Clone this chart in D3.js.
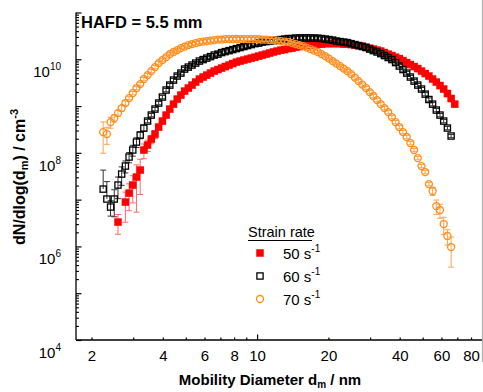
<!DOCTYPE html>
<html><head><meta charset="utf-8">
<script src="https://cdn.jsdelivr.net/npm/d3@7"></script>
<style>
body{margin:0;background:#fff}
svg{display:block}
text{font-family:"Liberation Sans",Arial,Helvetica,sans-serif}
</style>
</head><body>
<svg id="chart" width="483" height="392"></svg>
<script>
// Mobility diameter channels (nm) (64 channels / decade)
const diameters = [2.240,2.322,2.407,2.495,2.587,2.681,2.780,2.881,2.987,3.096,
3.210,3.327,3.449,3.576,3.707,3.842,3.983,4.129,4.280,4.437,
4.600,4.768,4.943,5.124,5.312,5.506,5.708,5.917,6.134,6.359,
6.592,6.833,7.083,7.343,7.612,7.891,8.180,8.480,8.791,9.113,
9.447,9.793,10.15,10.52,10.91,11.31,11.72,12.15,12.60,13.06,
13.54,14.03,14.55,15.08,15.63,16.20,16.80,17.41,18.05,18.71,
19.40,20.11,20.85,21.61,22.40,23.22,24.07,24.95,25.87,26.81,
27.80,28.81,29.87,30.96,32.10,33.27,34.49,35.76,37.07,38.42,
39.83,41.29,42.80,44.37,46.00,47.68,49.43,51.24,53.12,55.06,
57.08,59.17,61.34,63.59,65.92,68.33];

// dN/dlog(dm) for strain rate 50 s-1 (red filled squares)
const rate50 = [null,null,null,null,3.32e6,null,8.89e6,1.38e7,2.05e7,3.04e7,
4.29e7,1.15e8,1.47e8,1.97e8,2.52e8,3.56e8,4.78e8,6.42e8,8.63e8,1.10e9,
1.41e9,1.72e9,2.09e9,2.43e9,2.81e9,3.26e9,3.78e9,4.17e9,4.59e9,5.07e9,
5.60e9,6.03e9,6.49e9,6.98e9,7.52e9,8.09e9,8.71e9,9.16e9,9.62e9,1.01e10,
1.06e10,1.11e10,1.17e10,1.23e10,1.29e10,1.36e10,1.43e10,1.50e10,1.57e10,1.61e10,
1.69e10,1.73e10,1.82e10,1.87e10,1.91e10,1.96e10,2.01e10,2.06e10,2.11e10,2.11e10,
2.16e10,2.17e10,2.16e10,2.17e10,2.16e10,2.11e10,2.11e10,2.06e10,2.01e10,1.96e10,
1.91e10,1.82e10,1.73e10,1.65e10,1.57e10,1.50e10,1.39e10,1.29e10,1.20e10,1.11e10,
1.03e10,9.38e9,8.50e9,7.71e9,6.98e9,6.33e9,5.60e9,4.95e9,4.38e9,3.78e9,
3.26e9,2.74e9,2.31e9,1.85e9,1.45e9,1.10e9];

// strain rate 60 s-1 (black open squares)
const rate60 = [1.68e7,1.03e7,6.95e6,1.03e7,2.05e7,3.52e7,5.22e7,8.13e7,1.15e8,1.70e8,
2.40e8,3.39e8,4.78e8,6.42e8,8.63e8,1.16e9,1.56e9,2.20e9,2.81e9,3.59e9,
4.38e9,5.07e9,6.18e9,6.81e9,7.52e9,8.30e9,9.16e9,9.86e9,1.06e10,1.14e10,
1.23e10,1.29e10,1.39e10,1.46e10,1.53e10,1.61e10,1.69e10,1.78e10,1.87e10,1.96e10,
2.06e10,2.16e10,2.22e10,2.33e10,2.39e10,2.45e10,2.51e10,2.57e10,2.64e10,2.70e10,
2.77e10,2.77e10,2.84e10,2.85e10,2.86e10,2.86e10,2.85e10,2.84e10,2.82e10,2.77e10,
2.70e10,2.64e10,2.57e10,2.45e10,2.39e10,2.33e10,2.27e10,2.16e10,2.06e10,1.96e10,
1.87e10,1.78e10,1.65e10,1.53e10,1.43e10,1.32e10,1.20e10,1.09e10,9.86e9,8.50e9,
7.16e9,6.03e9,5.07e9,4.17e9,3.42e9,2.81e9,2.31e9,1.80e9,1.38e9,1.10e9,
8.22e8,6.42e8,4.78e8,3.39e8,2.29e8,null];

// strain rate 70 s-1 (orange open circles)
const rate70 = [2.78e8,2.52e8,4.55e8,5.54e8,7.08e8,9.06e8,1.16e9,1.48e9,1.90e9,2.43e9,
2.95e9,3.78e9,4.59e9,5.60e9,6.81e9,8.30e9,9.62e9,1.11e10,1.29e10,1.43e10,
1.57e10,1.73e10,1.87e10,2.01e10,2.11e10,2.22e10,2.33e10,2.39e10,2.45e10,2.51e10,
2.57e10,2.64e10,2.64e10,2.70e10,2.70e10,2.71e10,2.72e10,2.71e10,2.70e10,2.70e10,
2.70e10,2.69e10,2.68e10,2.64e10,2.63e10,2.57e10,2.56e10,2.51e10,2.45e10,2.39e10,
2.33e10,2.22e10,2.11e10,2.01e10,1.91e10,1.78e10,1.65e10,1.53e10,1.43e10,1.29e10,
1.17e10,1.03e10,9.16e9,8.09e9,7.16e9,6.33e9,5.60e9,4.83e9,4.06e9,3.42e9,
2.88e9,2.43e9,1.99e9,1.64e9,1.34e9,1.10e9,9.06e8,7.45e8,5.82e8,4.55e8,
3.56e8,2.78e8,2.18e8,1.62e8,1.15e8,7.74e7,5.22e7,3.89e7,2.15e7,1.53e7,
7.30e6,6.00e6,3.01e6,1.67e6,9.71e5,null];

// error bars: [channel index, absolute error]
const err50 = [[4,1.5e6],[6,5.6e6],[7,8e6],[8,1.2e7],[9,2.5e7],[10,3.0e7],[11,4e7],[12,4e7],[13,4e7],[14,5e7]];
const err60 = [[0,2.6e7],[1,1.4e7],[2,2.5e6],[3,6e6],[4,1.0e7],[5,1.5e7],[6,1.5e7],[7,2e7],[8,3e7],[9,4e7],[10,4e7],[11,5e7]];
const err70 = [[0,1.8e8],[1,1.0e8],[2,1.2e8],[3,1.0e8],[4,1.0e8],[5,1.2e8],[6,1.2e8],[89,3e6],[90,2.5e6],[91,2e6],[92,1.2e6],[93,6e5],[94,6.1e5]];
const relErr = 0.08; // other points

const seriesLabels = ["50","60","70"];
const xTickLabels = [2,4,6,8,10,20,40,60,80];
const yTickExponents = [4,6,8,10];
const legendTitle = "Strain rate";
const annotation = "HAFD = 5.5 mm";

(function(){
const svg = d3.select("#chart");
const pL=76, pR=482, pT=12.5, pB=340;
const x = d3.scaleLog().domain([1.72,89]).range([pL,pR]);
const y = d3.scaleLog().domain([1e4,1e11]).range([pB,pT]);
const fontTick = 15;

// right grey border line
svg.append("line").attr("x1",482.5).attr("x2",482.5).attr("y1",0).attr("y2",362)
  .attr("stroke","#b0b0b0").attr("stroke-width",1.2);

// ---------- X axis ----------
const xMinor = x.ticks().filter(v=>Math.abs(v-10)>1e-9 && v>=1.72 && v<=89);
const gx = svg.append("g").attr("transform",`translate(0,${pB})`);
gx.append("g").call(d3.axisBottom(x).tickValues(xMinor).tickSize(-2.5).tickSizeOuter(0).tickFormat(""))
  .call(g=>g.select(".domain").attr("stroke-width",1.3).attr("d",`M${pL},0H${pR}`))
  .call(g=>g.selectAll(".tick line").attr("stroke-width",1.2));
gx.append("g").call(d3.axisBottom(x).tickValues([10]).tickSize(-5.5).tickFormat(""))
  .call(g=>g.select(".domain").remove())
  .call(g=>g.selectAll(".tick line").attr("stroke-width",1.2));
gx.append("g").call(d3.axisBottom(x).tickValues(xTickLabels).tickSize(0).tickPadding(10.5).tickFormat(d3.format("d")))
  .call(g=>g.select(".domain").remove())
  .call(g=>g.selectAll(".tick text").attr("font-size",fontTick).attr("fill","#000")
        .attr("font-family",'"Liberation Sans",Arial,sans-serif'));

// ---------- Y axis ----------
const yAll = y.ticks();
const yMajor = yAll.filter(v=>Math.abs(Math.log10(v)-Math.round(Math.log10(v)))<1e-6);
const yMinor = yAll.filter(v=>!yMajor.includes(v));
const gy = svg.append("g").attr("transform",`translate(${pL},0)`);
gy.append("g").call(d3.axisLeft(y).tickValues(yMinor).tickSize(-3).tickSizeOuter(0).tickFormat(""))
  .call(g=>g.select(".domain").attr("stroke-width",1.3).attr("d",`M0,${pT}V${pB}`))
  .call(g=>g.selectAll(".tick line").attr("stroke-width",1.1));
gy.append("g").call(d3.axisLeft(y).tickValues(yMajor).tickSize(-5.5).tickFormat(""))
  .call(g=>g.select(".domain").remove())
  .call(g=>g.selectAll(".tick line").attr("stroke-width",1.2));
const gyl = gy.append("g").call(d3.axisLeft(y).tickValues(yTickExponents.map(e=>Math.pow(10,e))).tickSize(0).tickFormat(""));
gyl.select(".domain").remove();
gyl.selectAll(".tick").each(function(d){
  const e = Math.round(Math.log10(d));
  const t = d3.select(this).append("text").attr("x",-15).attr("y",17.5)
    .attr("text-anchor","end").attr("font-size",fontTick).attr("fill","#000");
  t.append("tspan").text("10");
  t.append("tspan").attr("dy",-7).attr("font-size",10).text(String(e));
});

// ---------- Titles ----------
const xt = svg.append("text").attr("x",270).attr("y",385).attr("text-anchor","middle")
  .attr("font-size",15).attr("font-weight","bold");
xt.append("tspan").text("Mobility Diameter d");
xt.append("tspan").attr("font-size",10).attr("dy",3).text("m");
xt.append("tspan").attr("dy",-3).text(" / nm");

const yt = svg.append("text").attr("transform","translate(25,177) rotate(-90)")
  .attr("text-anchor","middle").attr("font-size",16).attr("font-weight","bold");
yt.append("tspan").text("dN/dlog(d");
yt.append("tspan").attr("font-size",11).attr("dy",3).text("m");
yt.append("tspan").attr("dy",-3).text(") / cm");
yt.append("tspan").attr("font-size",11).attr("dy",-7).text("-3");

svg.append("text").attr("x",81).attr("y",28).attr("font-size",16.5).attr("font-weight","bold").text(annotation);

// ---------- Data ----------
const series = [
  {vals:rate50, errs:err50, color:"#ff0000", bar:"#ff6a6a", shape:"sq", fill:true},
  {vals:rate60, errs:err60, color:"#000000", bar:"#333333", shape:"sq", fill:false},
  {vals:rate70, errs:err70, color:"#ff8c1a", bar:"#ffa54d", shape:"ci", fill:false}
];
const plot = svg.append("g");
series.forEach(s=>{
  const errMap = new Map(s.errs);
  const pts = diameters.map((d,i)=>({d, v:s.vals[i], i})).filter(p=>p.v!=null);
  pts.forEach(p=>{ p.e = errMap.has(p.i) ? errMap.get(p.i) : p.v*relErr; });
  const gb = plot.append("g").attr("stroke",s.bar).attr("stroke-width",1);
  pts.forEach(p=>{
    const cx = x(p.d), hi = y(p.v+p.e), lo = (p.v-p.e)>0 ? y(p.v-p.e) : y(p.v);
    gb.append("line").attr("x1",cx).attr("x2",cx).attr("y1",hi).attr("y2",lo);
    gb.append("line").attr("x1",cx-3).attr("x2",cx+3).attr("y1",hi).attr("y2",hi);
    if ((p.v-p.e)>0) gb.append("line").attr("x1",cx-3).attr("x2",cx+3).attr("y1",lo).attr("y2",lo);
  });
  const gm = plot.append("g");
  if (s.shape==="sq") {
    const sz = s.fill ? 7.5 : 6.2;
    gm.selectAll("rect").data(pts).join("rect")
      .attr("x",p=>x(p.d)-sz/2).attr("y",p=>y(p.v)-sz/2).attr("width",sz).attr("height",sz)
      .attr("fill",s.fill? s.color : "none").attr("stroke",s.fill? "none" : s.color)
      .attr("stroke-width",1.3);
  } else {
    gm.selectAll("circle").data(pts).join("circle")
      .attr("cx",p=>x(p.d)).attr("cy",p=>y(p.v)).attr("r",3.5)
      .attr("fill","none").attr("stroke",s.color).attr("stroke-width",1.3);
  }
});

// ---------- Legend ----------
const lg = svg.append("g");
lg.append("text").attr("x",248).attr("y",237).attr("font-size",14.5).text(legendTitle);
lg.append("line").attr("x1",248).attr("x2",312).attr("y1",240.5).attr("y2",240.5).attr("stroke","#000").attr("stroke-width",1);
const ly = [253,276,299];
series.forEach((s,k)=>{
  const cy = ly[k];
  if (s.shape==="sq") {
    const sz = s.fill ? 7.5 : 6.2;
    lg.append("rect").attr("x",260-sz/2).attr("y",cy-sz/2).attr("width",sz).attr("height",sz)
      .attr("fill",s.fill? s.color:"none").attr("stroke",s.fill?"none":s.color).attr("stroke-width",1.3);
  } else {
    lg.append("circle").attr("cx",260).attr("cy",cy).attr("r",3.5).attr("fill","none")
      .attr("stroke",s.color).attr("stroke-width",1.3);
  }
  const t = lg.append("text").attr("x",283).attr("y",cy+5.5).attr("font-size",15);
  t.append("tspan").text(seriesLabels[k]+" s");
  t.append("tspan").attr("font-size",10).attr("dy",-7).text("-1");
});
})();
</script>
</body></html>
